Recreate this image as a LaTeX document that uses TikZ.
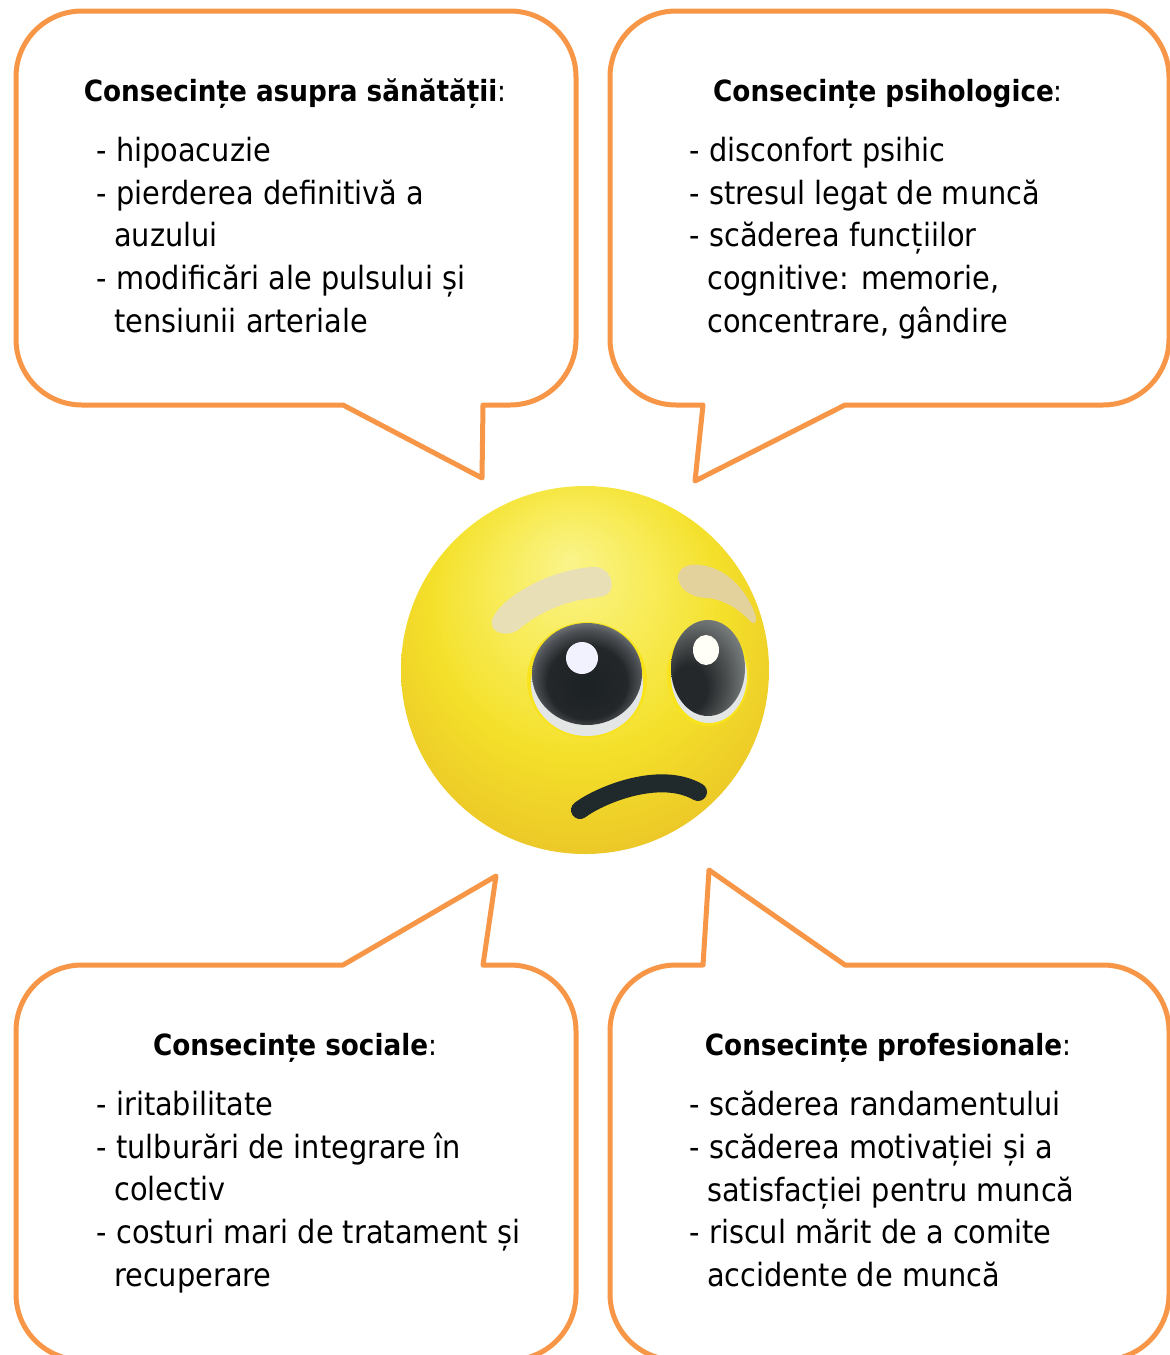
\documentclass[tikz,border=0pt]{standalone}
\usepackage{fontspec}
\setmainfont{DejaVu Sans Condensed}
\definecolor{orng}{HTML}{F79646}
\definecolor{brow}{HTML}{E9DFB6}
\definecolor{browb}{HTML}{E4D29C}
\definecolor{inkdark}{HTML}{20292B}
\definecolor{rim}{HTML}{F8E31C}
\definecolor{sclera}{HTML}{E4E6E6}
\definecolor{fa}{HTML}{FAF48A}
\definecolor{fb}{HTML}{F8EC5A}
\definecolor{fc}{HTML}{F4E02A}
\definecolor{fd}{HTML}{EDCB28}
\definecolor{fe}{HTML}{E2B42E}
\definecolor{ff}{HTML}{E6BE38}
\definecolor{la}{HTML}{1C2123}
\definecolor{lb}{HTML}{232729}
\definecolor{lc}{HTML}{4C5054}
\definecolor{ld}{HTML}{8A8F92}
\definecolor{le}{HTML}{AAAFB2}
\definecolor{ra}{HTML}{24282A}
\definecolor{rb}{HTML}{4A4E4F}
\definecolor{rc}{HTML}{7C8181}
\definecolor{rd}{HTML}{A2A8A8}
\pgfdeclareradialshading{facesh}{\pgfpoint{-2bp}{15bp}}{
 color(0bp)=(fa);
 color(10bp)=(fb);
 color(20bp)=(fc);
 color(29bp)=(fd);
 color(37bp)=(fe);
 color(46bp)=(ff)}
\pgfdeclareradialshading{lefteye}{\pgfpoint{0bp}{-8bp}}{
 color(0bp)=(la);
 color(18bp)=(lb);
 color(24bp)=(lc);
 color(30bp)=(ld);
 color(36bp)=(le)}
\pgfdeclareradialshading{righteye}{\pgfpoint{-17bp}{-14bp}}{
 color(0bp)=(ra);
 color(12bp)=(ra);
 color(22bp)=(rb);
 color(33bp)=(rc);
 color(48bp)=(rd)}
\tikzset{
 bubble/.style={draw=orng,line width=5pt,line join=round,fill=white},
 headtext/.style={anchor=base,inner sep=0pt,font=\fontsize{29.2}{36}\selectfont\bfseries},
 listtext/.style={anchor=north west,inner sep=0pt,align=left,font=\fontsize{32}{42.7}\selectfont},
 browfill/.style={fill=brow},
}
\newcommand{\itm}[1]{\makebox[20pt][l]{-}#1}
\newcommand{\cnt}[1]{\hspace*{18pt}#1}
\begin{document}
\begin{tikzpicture}[x=1pt,y=-1pt]
\useasboundingbox (0,0) rectangle (1170,1355);
\clip (0,0) rectangle (1170,1355);
% bubbles
\path[bubble] (343,405)--(82,405)..controls(45.5,405)and(16,375.5)..(16,339)--(16,77)..controls(16,40.5)and(45.5,11)..(82,11)--(510,11)..controls(546.5,11)and(576,40.5)..(576,77)--(576,339)..controls(576,375.5)and(546.5,405)..(510,405)--(483,405)--(482,478)--cycle;
\path[bubble] (845,405)--(1103,405)..controls(1139.5,405)and(1169,375.5)..(1169,339)--(1169,77)..controls(1169,40.5)and(1139.5,11)..(1103,11)--(676,11)..controls(639.5,11)and(610,40.5)..(610,77)--(610,339)..controls(610,375.5)and(639.5,405)..(676,405)--(703,405)--(695,481)--cycle;
\path[bubble] (343,965)--(82,965)..controls(45.5,965)and(16,994.5)..(16,1031)--(16,1294)..controls(16,1330.5)and(45.5,1360)..(82,1360)--(510,1360)..controls(546.5,1360)and(576,1330.5)..(576,1294)--(576,1031)..controls(576,994.5)and(546.5,965)..(510,965)--(483,965)--(496,876)--cycle;
\path[bubble] (845,965)--(1103,965)..controls(1139.5,965)and(1169,994.5)..(1169,1031)--(1169,1294)..controls(1169,1330.5)and(1139.5,1360)..(1103,1360)--(676,1360)..controls(639.5,1360)and(610,1330.5)..(610,1294)--(610,1031)..controls(610,994.5)and(639.5,965)..(676,965)--(703,965)--(709,870)--cycle;
% texts
\node[headtext] (h1) at (295,101) {Consecințe asupra sănătății\textmd{:}};
\node[headtext] (h2) at (888,101) {Consecințe psihologice\textmd{:}};
\node[headtext] (h3) at (295,1055) {Consecințe sociale\textmd{:}};
\node[headtext] (h4) at (888,1055) {Consecințe profesionale\textmd{:}};
\node[listtext] (l1) at (96,137) {\itm{hipoacuzie}\\\itm{pierderea definitivă a}\\\cnt{auzului}\\\itm{modificări ale pulsului și}\\\cnt{tensiunii arteriale}};
\node[listtext] (l2) at (689,137) {\itm{disconfort psihic}\\\itm{stresul legat de muncă}\\\itm{scăderea funcțiilor}\\\cnt{cognitive: memorie,}\\\cnt{concentrare, gândire}};
\node[listtext] (l3) at (96,1091) {\itm{iritabilitate}\\\itm{tulburări de integrare în}\\\cnt{colectiv}\\\itm{costuri mari de tratament și}\\\cnt{recuperare}};
\node[listtext] (l4) at (689,1091) {\itm{scăderea randamentului}\\\itm{scăderea motivației și a}\\\cnt{satisfacției pentru muncă}\\\itm{riscul mărit de a comite}\\\cnt{accidente de muncă}};
% face
\shade[shading=facesh] (585,670) circle (184);
% brows
\path[browfill] (492,620) .. controls (500,598) and (548,570) .. (592,567) .. controls (606,566) and (614,578) .. (611,589) .. controls (608,597) and (600,597) .. (585,599) .. controls (560,603) and (535,615) .. (518,630) .. controls (508,637) and (489,634) .. (492,620) -- cycle;
\path[browfill,fill=browb] (678,578) .. controls (678,568) and (688,563) .. (700,565) .. controls (728,568) and (748,592) .. (756,617) .. controls (757,623) and (753,625) .. (750,621) .. controls (740,610) and (725,600) .. (708,598) .. controls (695,598) and (680,592) .. (678,578) -- cycle;
% left eye
\fill[rim] (587,680) ellipse (60 and 58);
\fill[sclera] (587,684) ellipse (56 and 52);
\shade[shading=lefteye] (587,674) ellipse (55 and 51);
\fill[white!95!blue] (582,658) circle (16);
% right eye
\fill[rim] (708,675) ellipse (41 and 51);
\fill[sclera] (709,676) ellipse (38 and 47);
\shade[shading=righteye] (708,668) ellipse (37 and 48);
\fill[white!97!yellow] (706,650) ellipse (13 and 15);
% mouth
\draw[inkdark,line width=18pt,line cap=round] (580,810) .. controls (600,795) and (660,770) .. (698,792);
\end{tikzpicture}
\end{document}
